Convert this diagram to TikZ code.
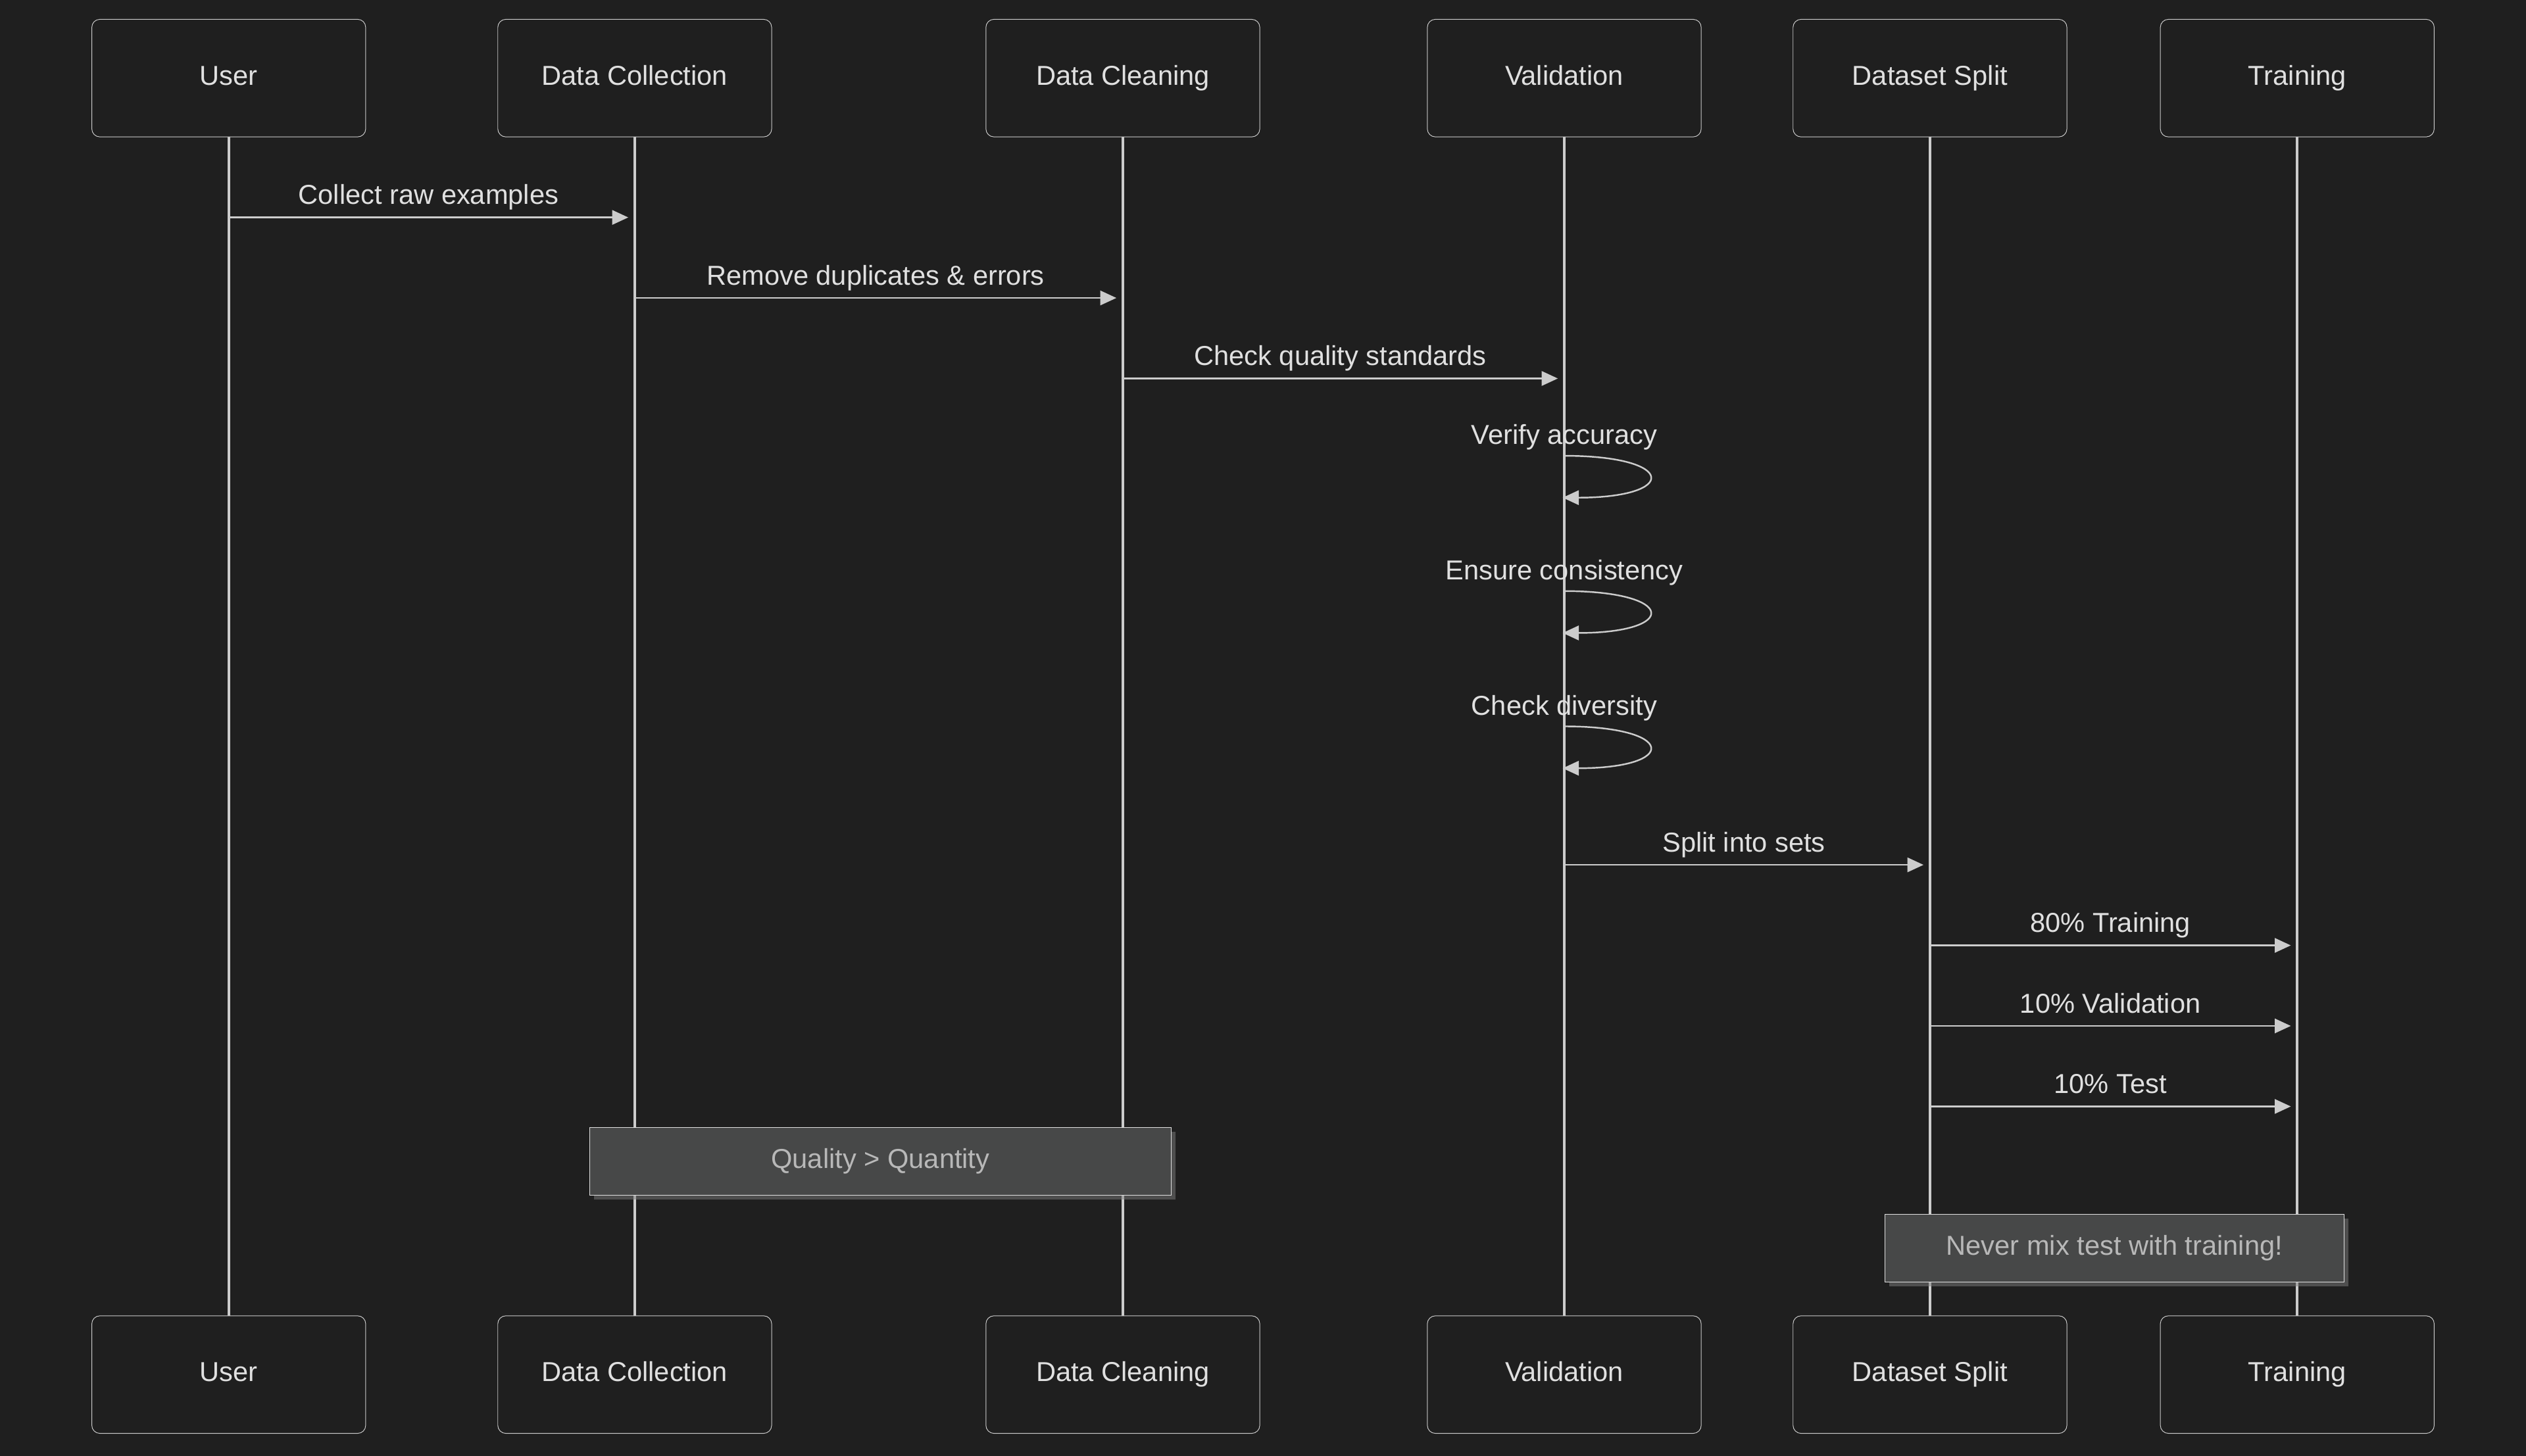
\documentclass[tikz,border=0pt]{standalone}
\usepackage{fontspec}
\setmainfont{Liberation Sans}
\usetikzlibrary{arrows.meta,shadows}
\definecolor{bg}{HTML}{1F1F1F}
\definecolor{ln}{HTML}{CCCCCC}
\definecolor{txt}{HTML}{E0E0E0}
\definecolor{notefill}{HTML}{474848}
\definecolor{notetxt}{HTML}{B8B8B8}
\tikzset{
  actor/.style = {draw=ln, fill=bg, rounded corners=5pt, minimum width=170pt, minimum height=73pt, text=txt, font=\fontsize{17}{20}\selectfont, text height=12pt, text depth=3.5pt},
  life/.style = {ln, line width=1.5pt},
  msg/.style = {ln, line width=1pt, -{Triangle[length=10pt,width=9pt]}},
  lbl/.style = {text=txt, font=\fontsize{17}{20}\selectfont, text height=12pt, text depth=3.5pt},
  note/.style = {draw=ln!60, fill=notefill, text=notetxt, font=\fontsize{17}{20}\selectfont, text height=12pt, text depth=3.5pt, drop shadow={opacity=0.5}}
}
\begin{document}
\begin{tikzpicture}[x=1pt, y=1pt]
        % Canvas
        \fill[bg] (0,0) rectangle (1568,-904);
        \useasboundingbox (0,0) rectangle (1568,-904);

        % Lifelines (drawn first, boxes on top)
        \foreach \name/\x in {user/142, coll/394, clean/697, valid/971, split/1198, train/1426} {
            \coordinate (\name T) at (\x,-85);
            \coordinate (\name B) at (\x,-817);
            \draw[life] (\name T) -- (\name B);
        }

        % Actor boxes, top and bottom
        \foreach \name/\x/\txt in {user/142/User, coll/394/Data Collection, clean/697/Data Cleaning, valid/971/Validation, split/1198/Dataset Split, train/1426/Training} {
            \node[actor] (\name top) at (\x,-48.5) {\txt};
            \node[actor] (\name bot) at (\x,-853.5) {\txt};
        }

        % Messages
        \foreach \from/\to/\y/\txt in {user/coll/135/Collect raw examples, coll/clean/185/Remove duplicates \& errors, clean/valid/235/Check quality standards, valid/split/537/Split into sets, split/train/587/80\% Training, split/train/637/10\% Validation, split/train/687/10\% Test} {
            \coordinate (a) at (\from T |- 0,-\y);
            \coordinate (b) at ([xshift=-4pt]\to T |- 0,-\y);
            \draw[msg] (a) -- (b);
            \path (a) -- (b) node[lbl, midway, above=1pt] {\txt};
        }

        % Self messages on Validation
        \foreach \y/\txt in {283/Verify accuracy, 367/Ensure consistency, 451/Check diversity} {
            \coordinate (s) at (validT |- 0,-\y);
            \coordinate (e) at ([xshift=-1pt]validT |- 0,-\y-26);
            \draw[msg] (s) .. controls ([xshift=70pt]s) and ([xshift=72pt]e) .. (e);
            \node[lbl, above=0pt] at (s) {\txt};
        }

        % Notes
        \node[note, minimum width=361pt, minimum height=42pt] (quality) at (546.5,-721) {Quality > Quantity};
        \node[note, minimum width=285pt, minimum height=42pt] (nevermix) at (1312.5,-775) {Never mix test with training!};
\end{tikzpicture}
\end{document}
